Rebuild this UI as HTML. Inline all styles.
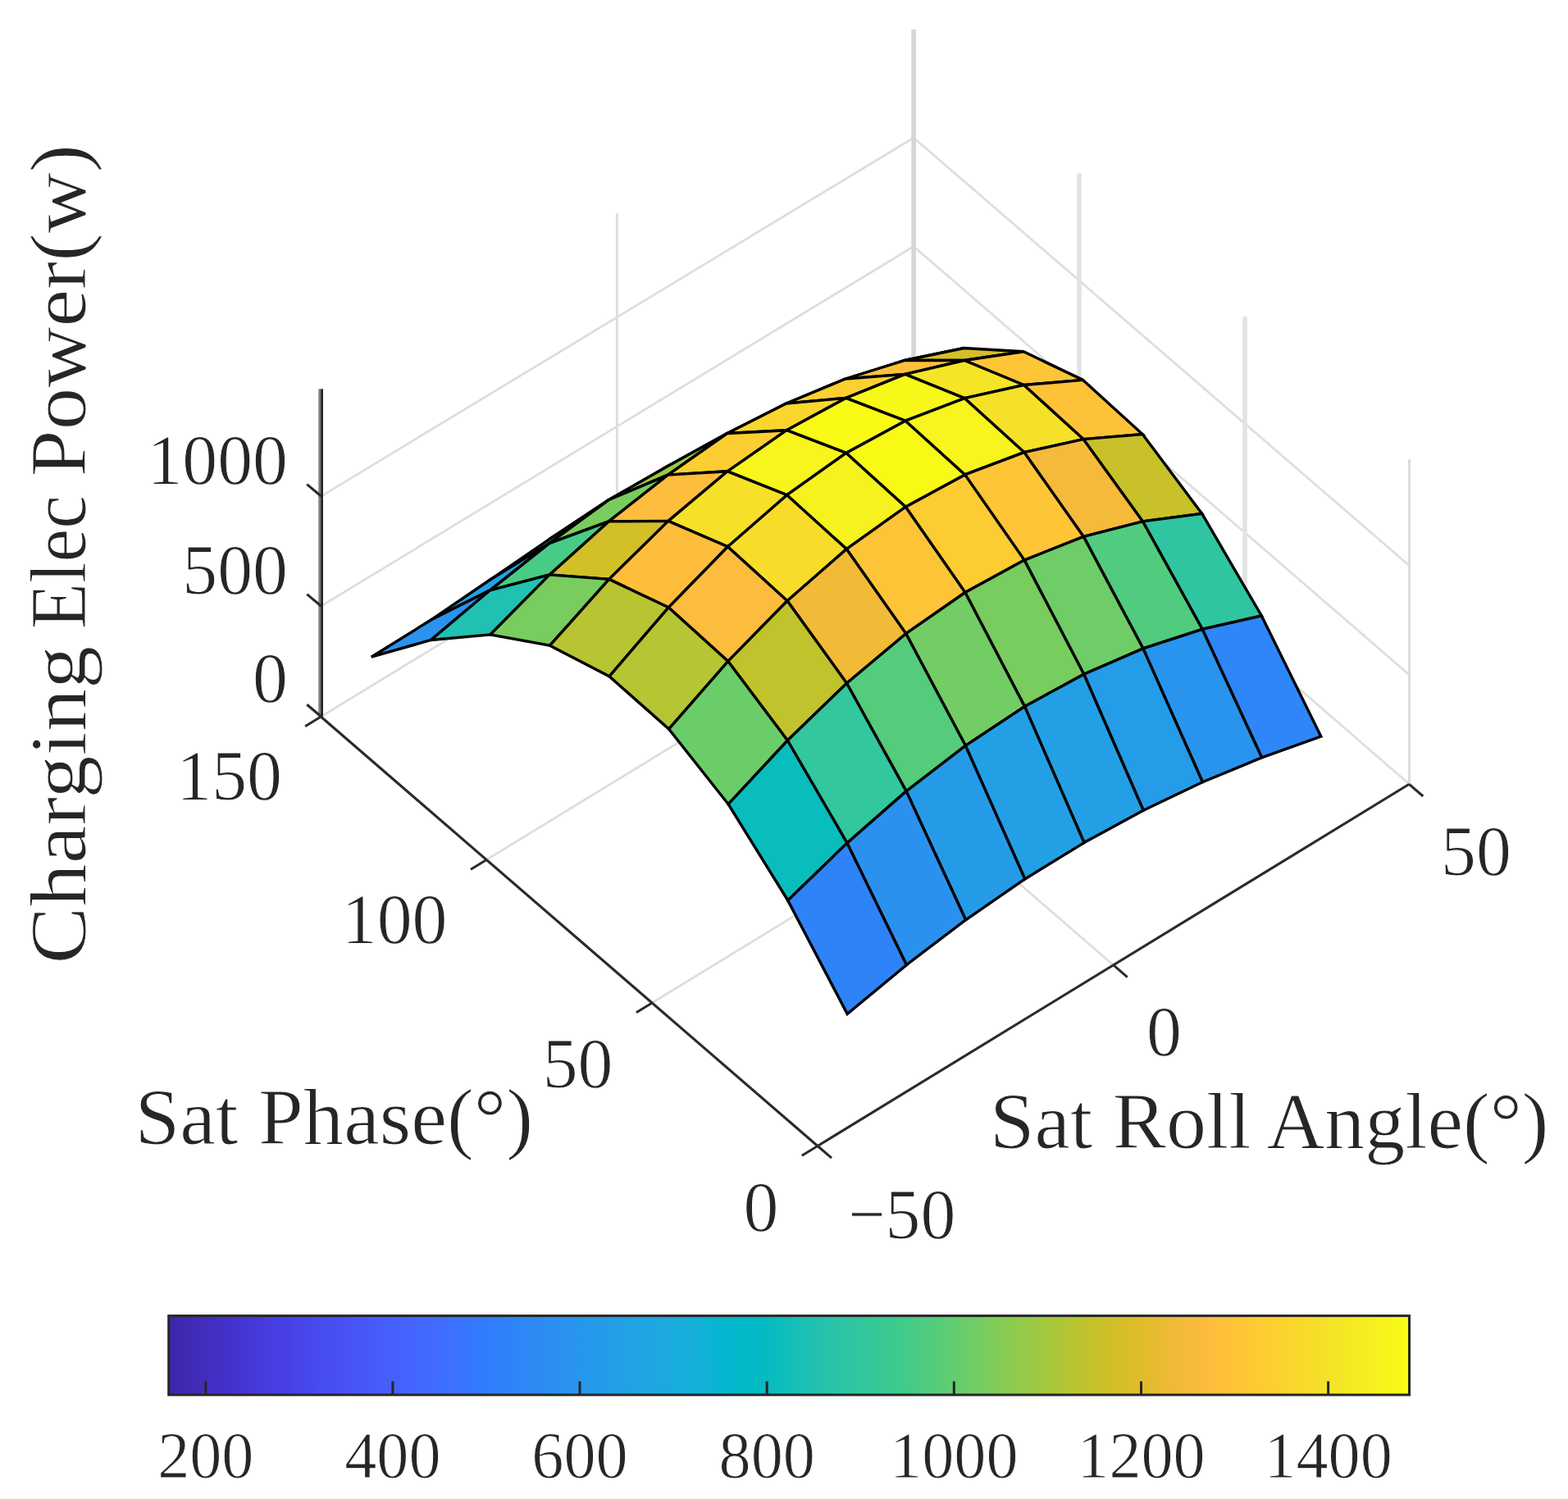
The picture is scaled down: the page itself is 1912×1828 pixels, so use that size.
<!DOCTYPE html>
<html><head><meta charset="utf-8"><title>Charging Elec Power surface</title>
<style>html,body{margin:0;padding:0;background:#fff}body{width:1912px;height:1828px;overflow:hidden}svg{display:block}</style>
</head><body>
<svg width="1912" height="1828" viewBox="0 0 1912 1828">
<defs><linearGradient id="cb" x1="0" y1="0" x2="1" y2="0">
<stop offset="0.0000" stop-color="#3e26a8"/>
<stop offset="0.0159" stop-color="#402ab4"/>
<stop offset="0.0317" stop-color="#422ec0"/>
<stop offset="0.0476" stop-color="#4332cb"/>
<stop offset="0.0635" stop-color="#4537d5"/>
<stop offset="0.0794" stop-color="#463cde"/>
<stop offset="0.0952" stop-color="#4741e5"/>
<stop offset="0.1111" stop-color="#4747eb"/>
<stop offset="0.1270" stop-color="#484df0"/>
<stop offset="0.1429" stop-color="#4852f4"/>
<stop offset="0.1587" stop-color="#4758f8"/>
<stop offset="0.1746" stop-color="#465efb"/>
<stop offset="0.1905" stop-color="#4563fd"/>
<stop offset="0.2063" stop-color="#4269fe"/>
<stop offset="0.2222" stop-color="#3e6fff"/>
<stop offset="0.2381" stop-color="#3875fe"/>
<stop offset="0.2540" stop-color="#327cfc"/>
<stop offset="0.2698" stop-color="#2f81fa"/>
<stop offset="0.2857" stop-color="#2e87f7"/>
<stop offset="0.3016" stop-color="#2d8cf3"/>
<stop offset="0.3175" stop-color="#2b91ef"/>
<stop offset="0.3333" stop-color="#2797eb"/>
<stop offset="0.3492" stop-color="#259be8"/>
<stop offset="0.3651" stop-color="#23a0e5"/>
<stop offset="0.3810" stop-color="#20a5e3"/>
<stop offset="0.3968" stop-color="#1ca9df"/>
<stop offset="0.4127" stop-color="#18addb"/>
<stop offset="0.4286" stop-color="#12b1d6"/>
<stop offset="0.4444" stop-color="#08b5d0"/>
<stop offset="0.4603" stop-color="#01b8ca"/>
<stop offset="0.4762" stop-color="#02bac3"/>
<stop offset="0.4921" stop-color="#0bbdbd"/>
<stop offset="0.5079" stop-color="#19bfb6"/>
<stop offset="0.5238" stop-color="#24c1ae"/>
<stop offset="0.5397" stop-color="#2cc4a7"/>
<stop offset="0.5556" stop-color="#31c69f"/>
<stop offset="0.5714" stop-color="#37c897"/>
<stop offset="0.5873" stop-color="#3fca8e"/>
<stop offset="0.6032" stop-color="#4acb84"/>
<stop offset="0.6190" stop-color="#57cc7a"/>
<stop offset="0.6349" stop-color="#64cd6f"/>
<stop offset="0.6508" stop-color="#72cd64"/>
<stop offset="0.6667" stop-color="#81cc59"/>
<stop offset="0.6825" stop-color="#8fcb4e"/>
<stop offset="0.6984" stop-color="#9dc943"/>
<stop offset="0.7143" stop-color="#abc739"/>
<stop offset="0.7302" stop-color="#b9c431"/>
<stop offset="0.7460" stop-color="#c5c22a"/>
<stop offset="0.7619" stop-color="#d1bf27"/>
<stop offset="0.7778" stop-color="#dcbd29"/>
<stop offset="0.7937" stop-color="#e6bb2d"/>
<stop offset="0.8095" stop-color="#f0ba36"/>
<stop offset="0.8254" stop-color="#f8ba3d"/>
<stop offset="0.8413" stop-color="#febe3c"/>
<stop offset="0.8571" stop-color="#fec338"/>
<stop offset="0.8730" stop-color="#fec934"/>
<stop offset="0.8889" stop-color="#fccf30"/>
<stop offset="0.9048" stop-color="#fad62d"/>
<stop offset="0.9206" stop-color="#f7dc2a"/>
<stop offset="0.9365" stop-color="#f5e327"/>
<stop offset="0.9524" stop-color="#f5e924"/>
<stop offset="0.9683" stop-color="#f6ef20"/>
<stop offset="0.9841" stop-color="#f7f51b"/>
<stop offset="1.0000" stop-color="#f9fb15"/>
</linearGradient></defs>
<rect width="1912" height="1828" fill="#ffffff"/>
<g stroke-linecap="butt">
<line x1="391.3" y1="874.0" x2="1114.1" y2="433.0" stroke="#dddddd" stroke-width="2.7" />
<line x1="1114.1" y1="433.0" x2="1718.5" y2="956.2" stroke="#dddddd" stroke-width="2.7" />
<line x1="391.3" y1="739.3" x2="1114.1" y2="300.5" stroke="#dddddd" stroke-width="2.7" />
<line x1="1114.1" y1="300.5" x2="1718.5" y2="822.9" stroke="#dddddd" stroke-width="2.7" />
<line x1="391.3" y1="605.3" x2="1114.1" y2="168.0" stroke="#dddddd" stroke-width="2.7" />
<line x1="1114.1" y1="168.0" x2="1718.5" y2="689.7" stroke="#dddddd" stroke-width="2.7" />
<line x1="1357.7" y1="1176.9" x2="752.7" y2="653.5" stroke="#dddddd" stroke-width="2.7" />
<line x1="795.1" y1="1223.0" x2="1516.9" y2="781.9" stroke="#dddddd" stroke-width="2.7" />
<line x1="593.2" y1="1048.5" x2="1315.5" y2="607.4" stroke="#dddddd" stroke-width="2.7" />
<rect x="750.90" y="260.0" width="3.0" height="393.5" fill="#dedede"/>
<rect x="1111.30" y="36.0" width="5.6" height="397.0" fill="#d6d6d6"/>
<rect x="1313.20" y="211.3" width="5.6" height="396.1" fill="#e3e3e3"/>
<rect x="1515.25" y="385.7" width="5.5" height="396.1" fill="#e3e3e3"/>
<rect x="1717.00" y="560.2" width="3.0" height="396.1" fill="#dcdcdc"/>
</g>
<g stroke-linecap="butt">
<line x1="997.0" y1="1397.5" x2="1718.3" y2="956.3" stroke="#2b2b2b" stroke-width="3.1" />
<line x1="997.0" y1="1397.5" x2="391.3" y2="874.0" stroke="#2b2b2b" stroke-width="3.1" />
<rect x="388.3" y="474.3" width="2.9" height="399.7" fill="#7d7d7d"/>
<rect x="391.1" y="474.3" width="2.9" height="399.7" fill="#262626"/>
<line x1="997.0" y1="1397.5" x2="1014.0" y2="1412.2" stroke="#2b2b2b" stroke-width="3.1" />
<line x1="1357.7" y1="1176.9" x2="1374.7" y2="1191.6" stroke="#2b2b2b" stroke-width="3.1" />
<line x1="1718.3" y1="956.3" x2="1735.3" y2="971.0" stroke="#2b2b2b" stroke-width="3.1" />
<line x1="997.0" y1="1397.5" x2="977.8" y2="1409.2" stroke="#2b2b2b" stroke-width="3.1" />
<line x1="795.1" y1="1223.0" x2="775.9" y2="1234.7" stroke="#2b2b2b" stroke-width="3.1" />
<line x1="593.2" y1="1048.5" x2="574.0" y2="1060.2" stroke="#2b2b2b" stroke-width="3.1" />
<line x1="391.3" y1="874.0" x2="372.1" y2="885.7" stroke="#2b2b2b" stroke-width="3.1" />
<line x1="391.8" y1="874.0" x2="374.3" y2="859.3" stroke="#2b2b2b" stroke-width="3.1" />
<line x1="391.8" y1="739.3" x2="374.3" y2="724.6" stroke="#2b2b2b" stroke-width="3.1" />
<line x1="391.8" y1="605.3" x2="374.3" y2="590.6" stroke="#2b2b2b" stroke-width="3.1" />
</g>
<g stroke="#000" stroke-width="3.4" stroke-linejoin="miter" stroke-miterlimit="3">
<polygon points="1030.8,463.5 1103.0,440.0 1030.4,476.0 958.2,503.0" fill="#2699e9"/>
<polygon points="958.6,493.5 1030.8,463.5 958.2,503.0 886.0,533.5" fill="#1fa6e2"/>
<polygon points="886.4,530.0 958.6,493.5 886.0,533.5 813.8,571.0" fill="#1babde"/>
<polygon points="814.2,568.5 886.4,530.0 813.8,571.0 741.6,611.1" fill="#15afd9"/>
<polygon points="742.0,609.8 814.2,568.5 741.6,611.1 669.4,657.8" fill="#12b1d6"/>
<polygon points="669.8,662.6 742.0,609.8 669.4,657.8 597.2,707.3" fill="#1babde"/>
<polygon points="597.6,719.8 669.8,662.6 597.2,707.3 525.0,756.3" fill="#22a1e4"/>
<polygon points="525.4,780.5 597.6,719.8 525.0,756.3 452.8,801.2" fill="#2a93ee"/>
<polygon points="1103.3,439.5 1175.5,424.5 1103.0,440.0 1030.8,463.5" fill="#42ca8b"/>
<polygon points="1031.1,462.0 1103.3,439.5 1030.8,463.5 958.6,493.5" fill="#72cd64"/>
<polygon points="958.9,492.0 1031.1,462.0 958.6,493.5 886.4,530.0" fill="#9ac946"/>
<polygon points="886.7,528.5 958.9,492.0 886.4,530.0 814.2,568.5" fill="#abc739"/>
<polygon points="814.5,579.1 886.7,528.5 814.2,568.5 742.0,609.8" fill="#9ac946"/>
<polygon points="742.3,635.9 814.5,579.1 742.0,609.8 669.8,662.6" fill="#79cc5e"/>
<polygon points="670.1,700.9 742.3,635.9 669.8,662.6 597.6,719.8" fill="#48cb86"/>
<polygon points="597.9,773.9 670.1,700.9 597.6,719.8 525.4,780.5" fill="#20c1b1"/>
<polygon points="1175.9,439.5 1248.1,428.8 1175.5,424.5 1103.3,439.5" fill="#d6be28"/>
<polygon points="1103.7,456.4 1175.9,439.5 1103.3,439.5 1031.1,462.0" fill="#fec03b"/>
<polygon points="1031.5,485.4 1103.7,456.4 1031.1,462.0 958.9,492.0" fill="#fcd030"/>
<polygon points="959.2,524.7 1031.5,485.4 958.9,492.0 886.7,528.5" fill="#f9d62d"/>
<polygon points="887.1,574.8 959.2,524.7 886.7,528.5 814.5,579.1" fill="#fcce31"/>
<polygon points="814.9,635.4 887.1,574.8 814.5,579.1 742.3,635.9" fill="#fdbd3d"/>
<polygon points="742.7,706.4 814.9,635.4 742.3,635.9 670.1,700.9" fill="#d3bf27"/>
<polygon points="670.5,787.2 742.7,706.4 670.1,700.9 597.9,773.9" fill="#79cc5e"/>
<polygon points="1248.4,469.5 1320.6,463.4 1248.1,428.8 1175.9,439.5" fill="#fec537"/>
<polygon points="1176.2,485.7 1248.4,469.5 1175.9,439.5 1103.7,456.4" fill="#f5e526"/>
<polygon points="1104.0,513.2 1176.2,485.7 1103.7,456.4 1031.5,485.4" fill="#f8f818"/>
<polygon points="1031.8,552.4 1104.0,513.2 1031.5,485.4 959.2,524.7" fill="#f9fb15"/>
<polygon points="959.6,603.7 1031.8,552.4 959.2,524.7 887.1,574.8" fill="#f7f51b"/>
<polygon points="887.4,666.7 959.6,603.7 887.1,574.8 814.9,635.4" fill="#f6e028"/>
<polygon points="815.2,740.8 887.4,666.7 814.9,635.4 742.7,706.4" fill="#febe3c"/>
<polygon points="743.0,824.8 815.2,740.8 742.7,706.4 670.5,787.2" fill="#b8c431"/>
<polygon points="1321.0,535.6 1393.2,529.6 1320.6,463.4 1248.4,469.5" fill="#fec239"/>
<polygon points="1248.8,551.6 1321.0,535.6 1248.4,469.5 1176.2,485.7" fill="#f5e128"/>
<polygon points="1176.6,578.9 1248.8,551.6 1176.2,485.7 1104.0,513.2" fill="#f7f51b"/>
<polygon points="1104.3,618.2 1176.6,578.9 1104.0,513.2 1031.8,552.4" fill="#f9f916"/>
<polygon points="1032.2,669.6 1104.3,618.2 1031.8,552.4 959.6,603.7" fill="#f6f21e"/>
<polygon points="960.0,732.7 1032.2,669.6 959.6,603.7 887.4,666.7" fill="#f7dd2a"/>
<polygon points="887.8,806.4 960.0,732.7 887.4,666.7 815.2,740.8" fill="#fcbc3d"/>
<polygon points="815.6,889.1 887.8,806.4 815.2,740.8 743.0,824.8" fill="#b5c533"/>
<polygon points="1393.5,635.9 1465.7,626.4 1393.2,529.6 1321.0,535.6" fill="#c8c129"/>
<polygon points="1321.3,654.4 1393.5,635.9 1321.0,535.6 1248.8,551.6" fill="#f5ba3a"/>
<polygon points="1249.1,683.1 1321.3,654.4 1248.8,551.6 1176.6,578.9" fill="#fec537"/>
<polygon points="1176.9,722.5 1249.1,683.1 1176.6,578.9 1104.3,618.2" fill="#fdcb32"/>
<polygon points="1104.7,772.7 1176.9,722.5 1104.3,618.2 1032.2,669.6" fill="#fec438"/>
<polygon points="1032.5,833.2 1104.7,772.7 1032.2,669.6 960.0,732.7" fill="#f1ba37"/>
<polygon points="960.3,903.0 1032.5,833.2 960.0,732.7 887.8,806.4" fill="#c1c32c"/>
<polygon points="888.1,980.7 960.3,903.0 887.8,806.4 815.6,889.1" fill="#6bcd69"/>
<polygon points="1466.1,767.3 1538.3,750.9 1465.7,626.4 1393.5,635.9" fill="#30c5a1"/>
<polygon points="1393.9,790.9 1466.1,767.3 1393.5,635.9 1321.3,654.4" fill="#51cc7f"/>
<polygon points="1321.7,822.2 1393.9,790.9 1321.3,654.4 1249.1,683.1" fill="#6ecd66"/>
<polygon points="1249.5,861.6 1321.7,822.2 1249.1,683.1 1176.9,722.5" fill="#79cc5e"/>
<polygon points="1177.3,909.3 1249.5,861.6 1176.9,722.5 1104.7,772.7" fill="#72cd64"/>
<polygon points="1105.1,964.9 1177.3,909.3 1104.7,772.7 1032.5,833.2" fill="#54cc7c"/>
<polygon points="1032.9,1028.1 1105.1,964.9 1032.5,833.2 960.3,903.0" fill="#33c79d"/>
<polygon points="960.7,1098.0 1032.9,1028.1 960.3,903.0 888.1,980.7" fill="#0abdbd"/>
<polygon points="1538.6,923.9 1610.8,898.1 1538.3,750.9 1466.1,767.3" fill="#2e86f8"/>
<polygon points="1466.4,953.8 1538.6,923.9 1466.1,767.3 1393.9,790.9" fill="#2994ed"/>
<polygon points="1394.2,988.2 1466.4,953.8 1393.9,790.9 1321.7,822.2" fill="#259ce7"/>
<polygon points="1322.0,1027.6 1394.2,988.2 1321.7,822.2 1249.5,861.6" fill="#23a0e5"/>
<polygon points="1249.8,1072.0 1322.0,1027.6 1249.5,861.6 1177.3,909.3" fill="#23a0e5"/>
<polygon points="1177.6,1121.8 1249.8,1072.0 1177.3,909.3 1105.1,964.9" fill="#259be8"/>
<polygon points="1105.4,1176.7 1177.6,1121.8 1105.1,964.9 1032.9,1028.1" fill="#2b91ef"/>
<polygon points="1033.2,1236.5 1105.4,1176.7 1032.9,1028.1 960.7,1098.0" fill="#2e83f9"/>
</g>
<text x="351" y="590.0" font-size="87.5" font-family="'Liberation Serif', 'DejaVu Serif', serif" fill="#262626" stroke="#ffffff" stroke-width="1.0" stroke-linejoin="round" text-anchor="end" textLength="171.6" lengthAdjust="spacingAndGlyphs">1000</text>
<text x="351" y="724.0999999999999" font-size="87.5" font-family="'Liberation Serif', 'DejaVu Serif', serif" fill="#262626" stroke="#ffffff" stroke-width="1.0" stroke-linejoin="round" text-anchor="end" textLength="128.7" lengthAdjust="spacingAndGlyphs">500</text>
<text x="351" y="856.3" font-size="87.5" font-family="'Liberation Serif', 'DejaVu Serif', serif" fill="#262626" stroke="#ffffff" stroke-width="1.0" stroke-linejoin="round" text-anchor="end" textLength="42.9" lengthAdjust="spacingAndGlyphs">0</text>
<text x="344" y="975.1999999999999" font-size="87.5" font-family="'Liberation Serif', 'DejaVu Serif', serif" fill="#262626" stroke="#ffffff" stroke-width="1.0" stroke-linejoin="round" text-anchor="end" textLength="128.7" lengthAdjust="spacingAndGlyphs">150</text>
<text x="545.5" y="1149.8" font-size="87.5" font-family="'Liberation Serif', 'DejaVu Serif', serif" fill="#262626" stroke="#ffffff" stroke-width="1.0" stroke-linejoin="round" text-anchor="end" textLength="128.7" lengthAdjust="spacingAndGlyphs">100</text>
<text x="747.5" y="1326.3" font-size="87.5" font-family="'Liberation Serif', 'DejaVu Serif', serif" fill="#262626" stroke="#ffffff" stroke-width="1.0" stroke-linejoin="round" text-anchor="end" textLength="85.8" lengthAdjust="spacingAndGlyphs">50</text>
<text x="949.5" y="1501.3" font-size="87.5" font-family="'Liberation Serif', 'DejaVu Serif', serif" fill="#262626" stroke="#ffffff" stroke-width="1.0" stroke-linejoin="round" text-anchor="end" textLength="42.9" lengthAdjust="spacingAndGlyphs">0</text>
<text y="1509.8" font-size="87.5" font-family="'Liberation Serif', 'DejaVu Serif', serif" fill="#262626" stroke="#ffffff" stroke-width="1.0" stroke-linejoin="round"><tspan x="1034.5" textLength="45" lengthAdjust="spacingAndGlyphs">−</tspan><tspan x="1079.5" textLength="85.8" lengthAdjust="spacingAndGlyphs">50</tspan></text>
<text x="1398" y="1287.3" font-size="87.5" font-family="'Liberation Serif', 'DejaVu Serif', serif" fill="#262626" stroke="#ffffff" stroke-width="1.0" stroke-linejoin="round" text-anchor="start" textLength="42.9" lengthAdjust="spacingAndGlyphs">0</text>
<text x="1757" y="1067.3" font-size="87.5" font-family="'Liberation Serif', 'DejaVu Serif', serif" fill="#262626" stroke="#ffffff" stroke-width="1.0" stroke-linejoin="round" text-anchor="start" textLength="85.8" lengthAdjust="spacingAndGlyphs">50</text>
<text x="164.5" y="1395.3" font-size="97" font-family="'Liberation Serif', 'DejaVu Serif', serif" fill="#262626" stroke="#ffffff" stroke-width="1.0" stroke-linejoin="round" text-anchor="start" textLength="485.5" lengthAdjust="spacingAndGlyphs">Sat Phase(°)</text>
<text x="1207" y="1400.3" font-size="97" font-family="'Liberation Serif', 'DejaVu Serif', serif" fill="#262626" stroke="#ffffff" stroke-width="1.0" stroke-linejoin="round" text-anchor="start" textLength="681.5" lengthAdjust="spacingAndGlyphs">Sat Roll Angle(°)</text>
<text transform="translate(104.3 0) rotate(-90)" y="0" font-size="97" font-family="'Liberation Serif', 'DejaVu Serif', serif" fill="#262626" stroke="#ffffff" stroke-width="1.0" stroke-linejoin="round"><tspan x="-1175.5" textLength="388" lengthAdjust="spacingAndGlyphs">Charging</tspan> <tspan x="-767.1" textLength="163.2" lengthAdjust="spacingAndGlyphs">Elec</tspan> <tspan x="-581.4" textLength="405.5" lengthAdjust="spacingAndGlyphs">Power(w)</tspan></text>
<rect x="205.7" y="1604.6" width="1512.8" height="96.40000000000009" fill="url(#cb)" stroke="#262626" stroke-width="3"/>
<line x1="250.8" y1="1701.0" x2="250.8" y2="1684.5" stroke="#262626" stroke-width="3"/>
<text x="250.8" y="1801.9" font-size="81" font-family="'Liberation Serif', 'DejaVu Serif', serif" fill="#262626" stroke="#ffffff" stroke-width="1.0" stroke-linejoin="round" text-anchor="middle" textLength="117.30000000000001" lengthAdjust="spacingAndGlyphs">200</text>
<line x1="478.9" y1="1701.0" x2="478.9" y2="1684.5" stroke="#262626" stroke-width="3"/>
<text x="478.9" y="1801.9" font-size="81" font-family="'Liberation Serif', 'DejaVu Serif', serif" fill="#262626" stroke="#ffffff" stroke-width="1.0" stroke-linejoin="round" text-anchor="middle" textLength="117.30000000000001" lengthAdjust="spacingAndGlyphs">400</text>
<line x1="707.0" y1="1701.0" x2="707.0" y2="1684.5" stroke="#262626" stroke-width="3"/>
<text x="707.0" y="1801.9" font-size="81" font-family="'Liberation Serif', 'DejaVu Serif', serif" fill="#262626" stroke="#ffffff" stroke-width="1.0" stroke-linejoin="round" text-anchor="middle" textLength="117.30000000000001" lengthAdjust="spacingAndGlyphs">600</text>
<line x1="935.2" y1="1701.0" x2="935.2" y2="1684.5" stroke="#262626" stroke-width="3"/>
<text x="935.2" y="1801.9" font-size="81" font-family="'Liberation Serif', 'DejaVu Serif', serif" fill="#262626" stroke="#ffffff" stroke-width="1.0" stroke-linejoin="round" text-anchor="middle" textLength="117.30000000000001" lengthAdjust="spacingAndGlyphs">800</text>
<line x1="1163.3" y1="1701.0" x2="1163.3" y2="1684.5" stroke="#262626" stroke-width="3"/>
<text x="1163.3" y="1801.9" font-size="81" font-family="'Liberation Serif', 'DejaVu Serif', serif" fill="#262626" stroke="#ffffff" stroke-width="1.0" stroke-linejoin="round" text-anchor="middle" textLength="156.4" lengthAdjust="spacingAndGlyphs">1000</text>
<line x1="1391.5" y1="1701.0" x2="1391.5" y2="1684.5" stroke="#262626" stroke-width="3"/>
<text x="1391.5" y="1801.9" font-size="81" font-family="'Liberation Serif', 'DejaVu Serif', serif" fill="#262626" stroke="#ffffff" stroke-width="1.0" stroke-linejoin="round" text-anchor="middle" textLength="156.4" lengthAdjust="spacingAndGlyphs">1200</text>
<line x1="1619.6" y1="1701.0" x2="1619.6" y2="1684.5" stroke="#262626" stroke-width="3"/>
<text x="1619.6" y="1801.9" font-size="81" font-family="'Liberation Serif', 'DejaVu Serif', serif" fill="#262626" stroke="#ffffff" stroke-width="1.0" stroke-linejoin="round" text-anchor="middle" textLength="156.4" lengthAdjust="spacingAndGlyphs">1400</text>
</svg>
</body></html>
